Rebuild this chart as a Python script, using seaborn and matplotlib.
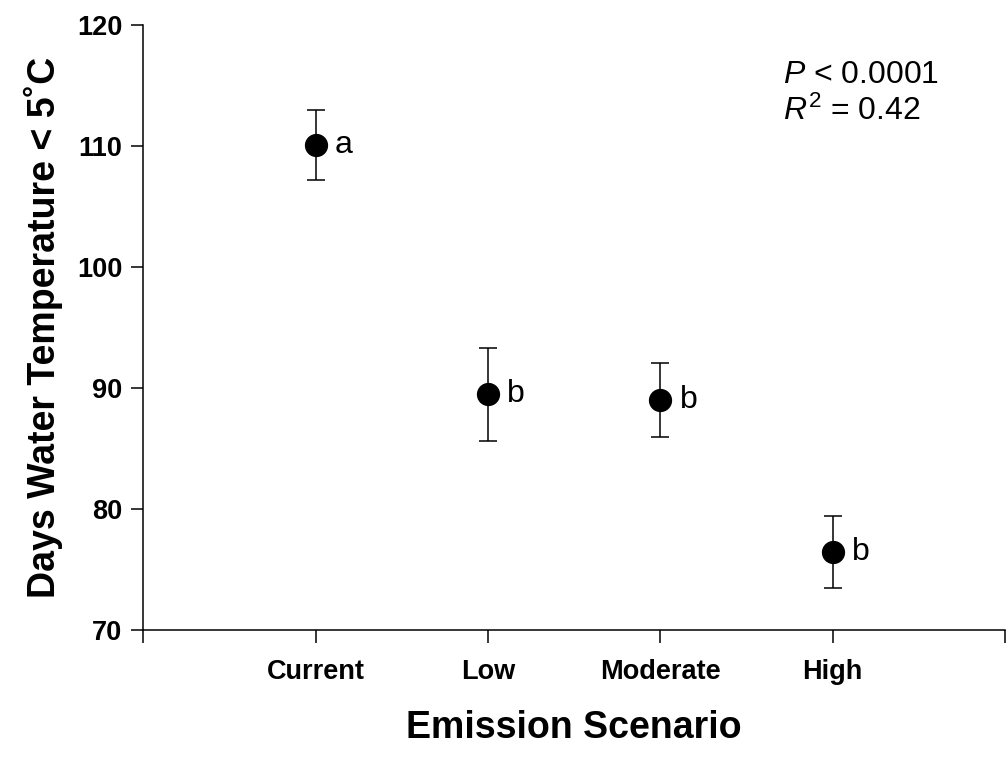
import numpy as np
import pandas as pd
import matplotlib
matplotlib.use("Agg")
import matplotlib.pyplot as plt
import seaborn as sns

# data
scenarios = ["Current", "Low", "Moderate", "High"]
means = [110.1, 89.5, 89.0, 76.45]
errors = [2.9, 3.85, 3.05, 2.95]
letters = ["a", "b", "b", "b"]

sns.set_style("ticks")
plt.rcParams["font.family"] = ["Liberation Sans", "DejaVu Sans"]
plt.rcParams["text.color"] = "black"
plt.rcParams["axes.labelcolor"] = "black"
plt.rcParams["xtick.color"] = "black"
plt.rcParams["ytick.color"] = "black"
plt.rcParams["axes.edgecolor"] = "black"
plt.rcParams["mathtext.fontset"] = "custom"
plt.rcParams["mathtext.rm"] = "Liberation Sans"
plt.rcParams["mathtext.it"] = "Liberation Sans:italic"

df = pd.DataFrame({"pos": np.arange(1, len(scenarios) + 1), "mean": means, "se": errors})

fig = plt.figure(figsize=(10.08, 7.62), dpi=100)
ax = fig.add_axes([0.142, 0.173, 0.855, 0.794])

ax.errorbar(df["pos"], df["mean"], yerr=df["se"], fmt="none", ecolor="black",
            elinewidth=1.1, capsize=6.5, capthick=1.1, zorder=2)
sns.scatterplot(data=df, x="pos", y="mean", ax=ax, color="black", s=240,
                edgecolor="black", zorder=3, legend=False)

for p, m, lab in zip(df["pos"], df["mean"], letters):
    ax.annotate(lab, (p, m), xytext=(14, 0), textcoords="offset points",
                ha="left", va="center", fontsize=23)

ax.set_xlim(0, 5)
ax.set_ylim(70, 120)
ax.set_xticks(range(0, 6))
ax.set_xticklabels([""] + scenarios + [""], fontsize=19.5, fontweight="bold")
ax.set_yticks(range(70, 121, 10))
ax.tick_params(axis="y", labelsize=19.5, length=9, width=1.1, direction="out", pad=6)
ax.tick_params(axis="x", length=9, width=1.1, direction="out", pad=12)
for lab in ax.get_yticklabels():
    lab.set_fontweight("bold")

sns.despine(ax=ax)
for sp in ["left", "bottom"]:
    ax.spines[sp].set_linewidth(1.1)

ax.set_xlabel("Emission Scenario", fontsize=27, fontweight="bold", labelpad=18)
ax.set_ylabel("Days Water Temperature < 5\u02daC", fontsize=27, fontweight="bold", labelpad=10)

ax.text(0.743, 0.917, r"$P$ < 0.0001", transform=ax.transAxes, fontsize=23,
        ha="left", va="center")
ax.text(0.743, 0.857, r"$R^2$ = 0.42", transform=ax.transAxes, fontsize=23,
        ha="left", va="center")

fig.savefig("out.png", dpi=100)
